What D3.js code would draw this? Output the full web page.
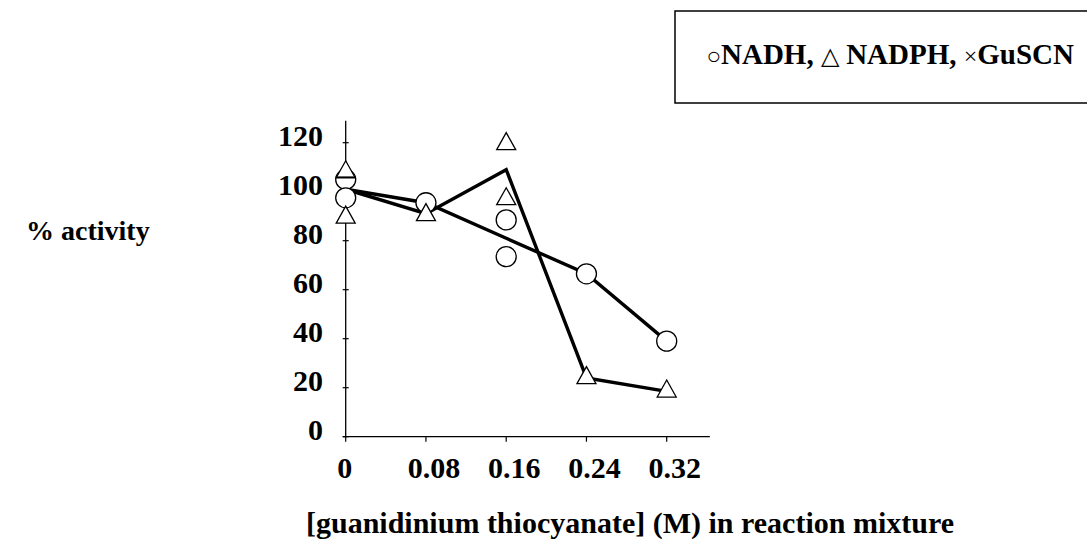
<!DOCTYPE html>
<html>
<head>
<meta charset="utf-8">
<script src="https://cdn.jsdelivr.net/npm/d3@7"></script>
<style>
  html, body { margin: 0; padding: 0; background: #fff; }
  svg { display: block; }
  text { font-family: "Liberation Serif", "Times New Roman", serif; font-weight: bold; fill: #000; }
</style>
</head>
<body>
<svg id="chart" width="1087" height="539"></svg>
<script>
// Guanidinium thiocyanate concentrations (M)
const concentrations = [0, 0.08, 0.16, 0.24, 0.32];

// Mean % activity per concentration (connected lines)
const nadhMean  = [101, 95.5, 81, 66.5, 39];
const nadphMean = [101, 91, 109, 24, 18.5];

// Individual replicate measurements
const nadhX  = [0, 0, 0.08, 0.16, 0.16, 0.24, 0.32];
const nadhY  = [105, 97.5, 95.5, 88.5, 73.5, 66.5, 39];
const nadphX = [0, 0, 0.08, 0.16, 0.16, 0.24, 0.32];
const nadphY = [108, 89.5, 90.5, 119.5, 97, 24, 18.5];

// GuSCN-only reference mark
const gusX = [0];
const gusY = [106];

// Axis tick labels
const yTicks = [0, 20, 40, 60, 80, 100, 120];
const xTicks = [0, 0.08, 0.16, 0.24, 0.32];
const xTickLabels = ["0", "0.08", "0.16", "0.24", "0.32"];

const svg = d3.select("#chart");

const x = d3.scaleLinear().domain([0, 0.32]).range([345.7, 666.7]);
const y = d3.scaleLinear().domain([0, 120]).range([436.7, 142.7]);

// Axes (thin lines with small crossing ticks)
const axisG = svg.append("g").attr("stroke", "#000").attr("fill", "none");
axisG.append("line")
  .attr("x1", x(0)).attr("x2", x(0))
  .attr("y1", y(0)).attr("y2", y(129))
  .attr("stroke-width", 1.3);
axisG.append("line")
  .attr("x1", x(0) - 3).attr("x2", x(0.363))
  .attr("y1", y(0)).attr("y2", y(0))
  .attr("stroke-width", 1.3);
axisG.selectAll(".ytick").data(yTicks).join("line")
  .attr("x1", x(0) - 3).attr("x2", x(0) + 3)
  .attr("y1", d => y(d)).attr("y2", d => y(d))
  .attr("stroke-width", 1.2);
axisG.selectAll(".xtick").data(xTicks).join("line")
  .attr("x1", d => x(d)).attr("x2", d => x(d))
  .attr("y1", y(0)).attr("y2", y(0) + 5)
  .attr("stroke-width", 1.2);

// Tick labels
svg.selectAll(".ylab").data(yTicks).join("text")
  .attr("x", 323)
  .attr("y", d => y(d) + 3)
  .attr("text-anchor", "end")
  .attr("font-size", 30)
  .text(d => d);

svg.selectAll(".xlab").data(xTicks).join("text")
  .attr("x", (d, i) => x(d) + (i === 0 ? -1 : 8))
  .attr("y", 478)
  .attr("text-anchor", "middle")
  .attr("font-size", 30)
  .text((d, i) => xTickLabels[i]);

// Axis titles
svg.append("text")
  .attr("x", 26).attr("y", 240)
  .attr("font-size", 28)
  .text("% activity");

svg.append("text")
  .attr("x", 630).attr("y", 533)
  .attr("text-anchor", "middle")
  .attr("font-size", 30)
  .text("[guanidinium thiocyanate] (M) in reaction mixture");

// Mean lines
const line = d3.line().x(d => x(d[0])).y(d => y(d[1]));
[nadhMean, nadphMean].forEach(vals => {
  svg.append("path")
    .datum(concentrations.map((c, i) => [c, vals[i]]))
    .attr("d", line)
    .attr("fill", "none")
    .attr("stroke", "#000")
    .attr("stroke-width", 3.4)
    .attr("stroke-linejoin", "miter");
});

// Replicate markers
svg.selectAll(".nadh").data(nadhX).join("circle")
  .attr("cx", d => x(d))
  .attr("cy", (d, i) => y(nadhY[i]))
  .attr("r", 10)
  .attr("fill", "#fff")
  .attr("stroke", "#000")
  .attr("stroke-width", 1.3);

const triW = 19, triH = 17;
const triPath = `M0,${-triH * 2 / 3}L${triW / 2},${triH / 3}L${-triW / 2},${triH / 3}Z`;
svg.selectAll(".nadph").data(nadphX).join("path")
  .attr("d", triPath)
  .attr("transform", (d, i) => `translate(${x(d)},${y(nadphY[i])})`)
  .attr("fill", "#fff")
  .attr("stroke", "#000")
  .attr("stroke-width", 1.3);

// GuSCN mark, drawn over the markers at zero
svg.selectAll(".gus").data(gusX).join("line")
  .attr("x1", (d) => x(d) - 10).attr("x2", (d) => x(d) + 10)
  .attr("y1", (d, i) => y(gusY[i])).attr("y2", (d, i) => y(gusY[i]))
  .attr("stroke", "#000").attr("stroke-width", 1.2);

// Legend box
svg.append("rect")
  .attr("x", 675).attr("y", 11)
  .attr("width", 430).attr("height", 92)
  .attr("fill", "none")
  .attr("stroke", "#000")
  .attr("stroke-width", 1.5);

const leg = svg.append("text")
  .attr("x", 1074).attr("y", 64)
  .attr("text-anchor", "end")
  .attr("font-size", 29);
leg.append("tspan").attr("font-weight", "normal").attr("font-size", 24).text("○");
leg.append("tspan").text("NADH, ");
leg.append("tspan").attr("font-weight", "normal").attr("font-size", 24).text("△");
leg.append("tspan").text(" NADPH, ");
leg.append("tspan").attr("font-weight", "normal").attr("font-size", 24).text("×");
leg.append("tspan").text("GuSCN");
</script>
</body>
</html>
